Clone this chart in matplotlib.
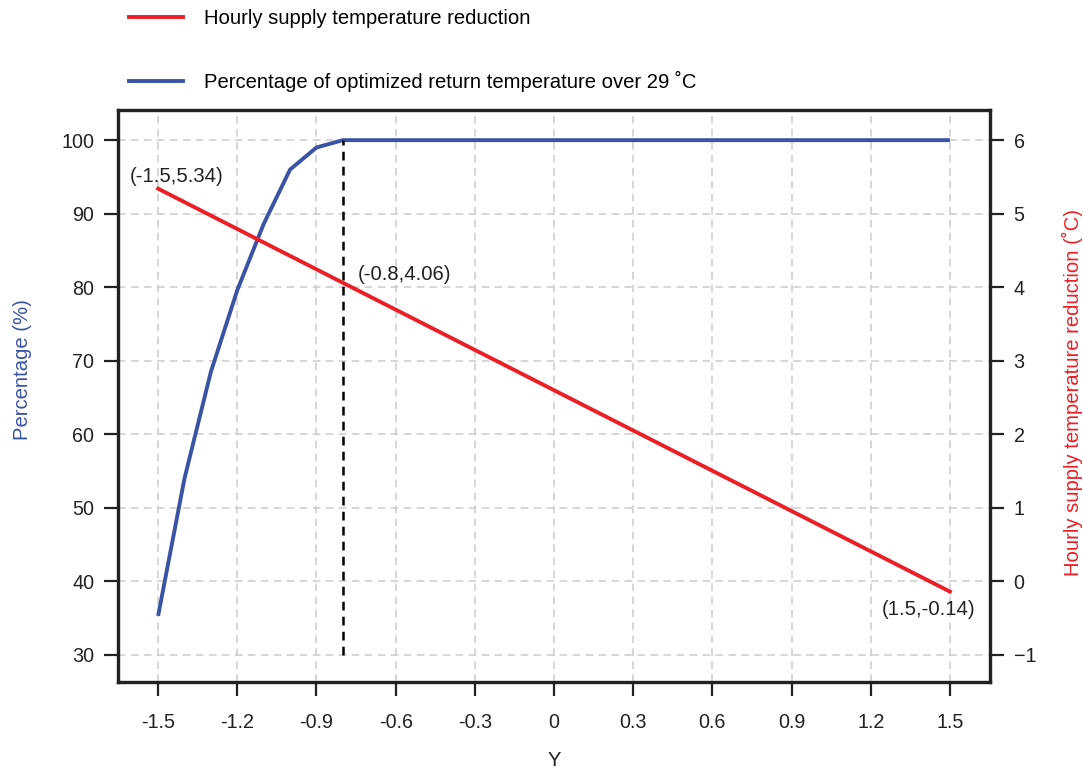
import matplotlib
matplotlib.use("Agg")
import matplotlib.pyplot as plt
from matplotlib.lines import Line2D

plt.rcParams['font.family'] = ['Liberation Sans', 'DejaVu Sans']

# Data
blue_x = [-1.5, -1.4, -1.3, -1.2, -1.1, -1.0, -0.9, -0.8, 1.5]
blue_y = [35.3, 54.0, 68.5, 79.6, 88.6, 96.0, 99.0, 100.0, 100.0]
red_x = [-1.5, -0.8, 1.5]
red_y = [5.34, 4.06, -0.14]
cut_x = -0.8
xticks = [-1.5, -1.2, -0.9, -0.6, -0.3, 0, 0.3, 0.6, 0.9, 1.2, 1.5]
xtick_labels = ['-1.5', '-1.2', '-0.9', '-0.6', '-0.3', '0', '0.3', '0.6', '0.9', '1.2', '1.5']
left_ticks = [30, 40, 50, 60, 70, 80, 90, 100]
right_ticks = [-1, 0, 1, 2, 3, 4, 5, 6]
annotations = [("(-1.5,5.34)", -1.5, 5.34), ("(-0.8,4.06)", -0.8, 4.06), ("(1.5,-0.14)", 1.5, -0.14)]

RED = '#EC1F26'
BLUE = '#3A53A4'
DARK = '#222222'
FS = 14.6
TFS = 14.2

fig = plt.figure(figsize=(10.83, 7.70), dpi=100)
ax = fig.add_axes([118/1083, 1-682/770, (990-118)/1083, (682-110)/770])
ax2 = ax.twinx()

ax.set_xlim(-1.652, 1.652)
ax.set_ylim(26.3, 104.1)
ax2.set_ylim(26.3/10 - 4, 104.1/10 - 4)

ax.grid(True, color='#cccccc', linestyle=(0, (5, 3.5)), linewidth=1.1)
ax.set_axisbelow(True)

ax.plot(blue_x, blue_y, color=BLUE, lw=2.8, solid_capstyle='butt', zorder=3)
ax.vlines(cut_x, 30, 100, colors='black', linestyles=(0, (3.5, 2.5)), lw=1.8, zorder=4)
ax2.plot(red_x, red_y, color=RED, lw=2.8, zorder=3)

ax.set_xticks(xticks)
ax.set_xticklabels(xtick_labels)
ax.set_yticks(left_ticks)
ax2.set_yticks(right_ticks)

for a in (ax, ax2):
    for s in a.spines.values():
        s.set_linewidth(2.3)
        s.set_color(DARK)
    a.tick_params(direction='out', length=10, width=1.6, color=DARK, labelsize=TFS, labelcolor='#222222', pad=7)
ax.tick_params(axis='x', pad=12)

ax.set_xlabel('Y', fontsize=FS, labelpad=14, color='#222222')
ax.set_ylabel('Percentage (%)', fontsize=FS, color=BLUE)
ax.yaxis.set_label_coords((32 - 118) / 872, (682 - 370) / 572)
ax2.set_ylabel('Hourly supply temperature reduction (˚C)', fontsize=FS, color=RED)
ax2.yaxis.set_label_coords((1062 - 118) / 872, (682 - 392) / 572)

# annotations
ax2.annotate(annotations[0][0], (annotations[0][1], annotations[0][2]), xytext=(-28, 12),
             textcoords='offset pixels', fontsize=FS, ha='left', va='center', color='#222222')
ax2.annotate(annotations[1][0], (annotations[1][1], annotations[1][2]), xytext=(15, 8),
             textcoords='offset pixels', fontsize=FS, ha='left', va='center', color='#222222')
ax2.annotate(annotations[2][0], (annotations[2][1], annotations[2][2]), xytext=(-21, -18),
             textcoords='offset pixels', fontsize=FS, ha='center', va='center', color='#222222')

handles = [Line2D([], [], color=RED, lw=2.8), Line2D([], [], color=BLUE, lw=2.8)]
labels = ['Hourly supply temperature reduction', 'Percentage of optimized return temperature over 29 ˚C']
fig.legend(handles, labels, loc='upper left', bbox_to_anchor=(121/1083, 1 - 1/770), frameon=False,
           fontsize=FS, handlelength=2.66, handletextpad=1.03, labelspacing=2.11, borderaxespad=0)

fig.savefig('out.png', dpi=100)
